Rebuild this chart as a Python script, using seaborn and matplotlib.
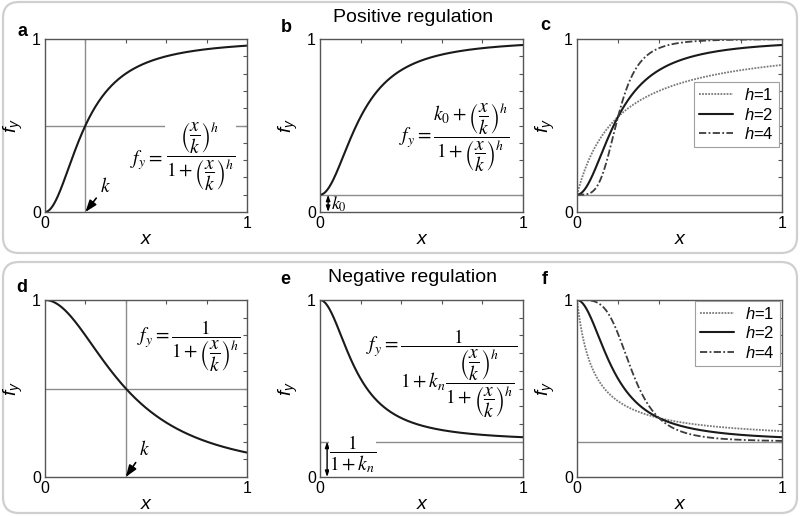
import matplotlib

matplotlib.use("Agg")
import matplotlib.pyplot as plt
import numpy as np
import pandas as pd
import seaborn as sns
from matplotlib.patches import FancyBboxPatch

# parameters (the curves are the Hill functions printed in the panels)
X_GRID = np.linspace(0, 1, 501)
K_POS = 0.2  # half-activation point, panels a-c
K0 = 0.1  # basal activity, panels b-c
K_NEG = 0.4  # half-repression point, panels d-f
KN = 4.0  # repression strength, panels e-f
H_MAIN = 2
H_VALUES = [1, 2, 4]
H_LABELS = ["$h$=1", "$h$=2", "$h$=4"]
PANEL_LETTERS = ["a", "b", "c", "d", "e", "f"]
ROW_TITLES = ["Positive regulation", "Negative regulation"]

EQ_A = r"$\dfrac{\left(\dfrac{x}{k}\right)^h}{1+\left(\dfrac{x}{k}\right)^h}$"
EQ_B = r"$f_y=\dfrac{k_0+\left(\dfrac{x}{k}\right)^h}{1+\left(\dfrac{x}{k}\right)^h}$"
EQ_D = r"$f_y=\dfrac{1}{1+\left(\dfrac{x}{k}\right)^h}$"
EQ_E = r"$f_y=\dfrac{1}{1+k_n\dfrac{\left(\dfrac{x}{k}\right)^h}{1+\left(\dfrac{x}{k}\right)^h}}$"
EQ_E_FLOOR = r"$\dfrac{1}{1+k_n}$"

sns.set_style("white")
plt.rcParams["font.family"] = ["Liberation Sans", "DejaVu Sans"]
plt.rcParams["mathtext.fontset"] = "custom"
plt.rcParams["mathtext.it"] = "Liberation Sans:italic"
plt.rcParams["mathtext.rm"] = "Liberation Sans"
plt.rcParams["mathtext.sf"] = "Liberation Sans"
plt.rcParams["text.color"] = "black"
plt.rcParams["axes.labelcolor"] = "black"
plt.rcParams["xtick.color"] = "black"
plt.rcParams["ytick.color"] = "black"

W, H = 800, 516
CURVE = dict(color="#1a1a1a", lw=1.5)
GUIDE = dict(color="#8c8c8c", lw=1.0, zorder=1)
H_STYLES = {
    1: dict(color="#7a7a7a", lw=1.3, dashes=(1, 0.7)),
    2: dict(color="#1a1a1a", lw=1.5),
    4: dict(color="#3c3c3c", lw=1.3, dashes=(4, 1.3, 1, 1.3)),
}


def activation(x, k, h, k0=0.0):
    u = (x / k) ** h
    return (k0 + u) / (1 + u)


def repression(x, k, h, kn=None):
    u = (x / k) ** h
    if kn is None:
        return 1 / (1 + u)
    return 1 / (1 + kn * u / (1 + u))


def px_axes(fig, left, top, right, bottom):
    return fig.add_axes(
        [left / W, 1 - bottom / H, (right - left) / W, (bottom - top) / H]
    )


def style_axes(ax):
    ax.set_xlim(0, 1)
    ax.set_ylim(0, 1)
    ax.set_xticks([0, 1])
    ax.set_yticks([0, 1])
    ax.set_xticklabels(["0", "1"])
    ax.set_yticklabels(["0", "1"])
    ax.set_xticks(np.arange(0.2, 0.99, 0.2), minor=True)
    ax.set_yticks(np.arange(0.1, 0.99, 0.1), minor=True)
    ax.tick_params(which="both", direction="in", top=True, right=True, color="#555555")
    ax.tick_params(which="major", length=0, labelsize=11.5, pad=3)
    ax.tick_params(which="minor", length=3, width=0.8)
    for spine in ax.spines.values():
        spine.set_color("#555555")
        spine.set_linewidth(1.0)
    ax.set_xlabel("x", style="italic", fontsize=14, labelpad=0)
    ax.set_ylabel("$f_y$", fontsize=14, labelpad=5)


def eq(ax, x, y, s, size=14, **kw):
    ax.text(x, y, s, fontsize=size, math_fontfamily="stix",
            ha="center", va="center", zorder=3, **kw)


def k_arrow(ax, k, tx, ty):
    ax.annotate(
        "$k$", xy=(k, 0), xytext=(tx, ty), fontsize=14, math_fontfamily="stix",
        ha="left", va="bottom",
        arrowprops=dict(arrowstyle="-|>,head_length=0.5,head_width=0.18",
                        color="k", lw=1.2, shrinkA=0, shrinkB=0),
    )


def floor_arrow(ax, x, level):
    ax.annotate(
        "", xy=(x, 0), xytext=(x, level),
        arrowprops=dict(arrowstyle="<|-|>,head_length=0.35,head_width=0.12",
                        color="k", lw=1.0, shrinkA=0, shrinkB=0),
    )


def h_family(ax, func):
    for h, label in zip(H_VALUES, H_LABELS):
        df = pd.DataFrame({"x": X_GRID, "fy": func(X_GRID, h)})
        sns.lineplot(data=df, x="x", y="fy", ax=ax, label=label, **H_STYLES[h])


def h_legend(ax, anchor):
    leg = ax.legend(loc="upper right", bbox_to_anchor=anchor, fancybox=False,
                    edgecolor="#a0a0a0", framealpha=1, fontsize=12,
                    handlelength=2.0, labelspacing=0.2, borderaxespad=0,
                    borderpad=0.3, handletextpad=0.7)
    leg.get_frame().set_linewidth(0.8)


fig = plt.figure(figsize=(W / 100, H / 100), dpi=100)

# rounded frames round the two rows
for y0, y1 in [(2, 253), (262, 513)]:
    fig.patches.append(FancyBboxPatch(
        (0.03, (H - y1) / 100), 7.94, (y1 - y0) / 100,
        boxstyle="round,pad=0,rounding_size=0.16",
        transform=fig.dpi_scale_trans, facecolor="white",
        edgecolor="#cfcfcf", lw=1.6, zorder=-5,
    ))

cols = [(45, 247), (320, 523), (577, 782)]
rows = [(39, 212), (300, 477)]
axes = [px_axes(fig, l, t, r, b) for (t, b) in rows for (l, r) in cols]
ax_a, ax_b, ax_c, ax_d, ax_e, ax_f = axes

# a: simple activator
sns.lineplot(x=X_GRID, y=activation(X_GRID, K_POS, H_MAIN), ax=ax_a, **CURVE)
ax_a.axvline(K_POS, **GUIDE)
ax_a.axhline(0.5, **GUIDE)
eq(ax_a, 0.77, 0.32, EQ_A, bbox=dict(facecolor="white", edgecolor="none", pad=0.5))
eq(ax_a, 0.5, 0.30, r"$f_y=$")
k_arrow(ax_a, K_POS, 0.27, 0.09)

# b: activator with basal level
sns.lineplot(x=X_GRID, y=activation(X_GRID, K_POS, H_MAIN, K0), ax=ax_b, **CURVE)
ax_b.axhline(K0, **GUIDE)
eq(ax_b, 0.66, 0.43, EQ_B)
floor_arrow(ax_b, 0.04, K0)
ax_b.text(0.055, 0.045, "$k_0$", fontsize=13, math_fontfamily="stix", va="center")

# c: effect of h
h_family(ax_c, lambda x, h: activation(x, K_POS, h, K0))
ax_c.axhline(K0, **GUIDE)
h_legend(ax_c, (0.985, 0.75))

# d: simple repressor
sns.lineplot(x=X_GRID, y=repression(X_GRID, K_NEG, H_MAIN), ax=ax_d, **CURVE)
ax_d.axvline(K_NEG, **GUIDE)
ax_d.axhline(0.5, **GUIDE)
eq(ax_d, 0.71, 0.74, EQ_D)
k_arrow(ax_d, K_NEG, 0.465, 0.1)

# e: repressor with floor
floor_level = 1 / (1 + KN)
sns.lineplot(x=X_GRID, y=repression(X_GRID, K_NEG, H_MAIN, KN), ax=ax_e, **CURVE)
ax_e.axhline(floor_level, **GUIDE)
eq(ax_e, 0.6, 0.58, EQ_E)
floor_arrow(ax_e, 0.035, floor_level)
eq(ax_e, 0.16, 0.13, EQ_E_FLOOR, bbox=dict(facecolor="white", edgecolor="none", pad=0))

# f: effect of h
h_family(ax_f, lambda x, h: repression(x, K_NEG, h, KN))
ax_f.axhline(floor_level, **GUIDE)
h_legend(ax_f, (0.99, 0.995))

for ax in axes:
    style_axes(ax)

letter_pos = [(22, 32), (286, 28), (545, 25), (22, 288), (285, 280), (545, 280)]
for letter, (x, y) in zip(PANEL_LETTERS, letter_pos):
    fig.text(x / W, 1 - y / H, letter, fontsize=13, fontweight="bold",
             ha="center", va="center")
for title, y in zip(ROW_TITLES, [18, 278]):
    fig.text(413 / W, 1 - y / H, title, fontsize=14, ha="center", va="center")

fig.savefig("out.png", dpi=100)
